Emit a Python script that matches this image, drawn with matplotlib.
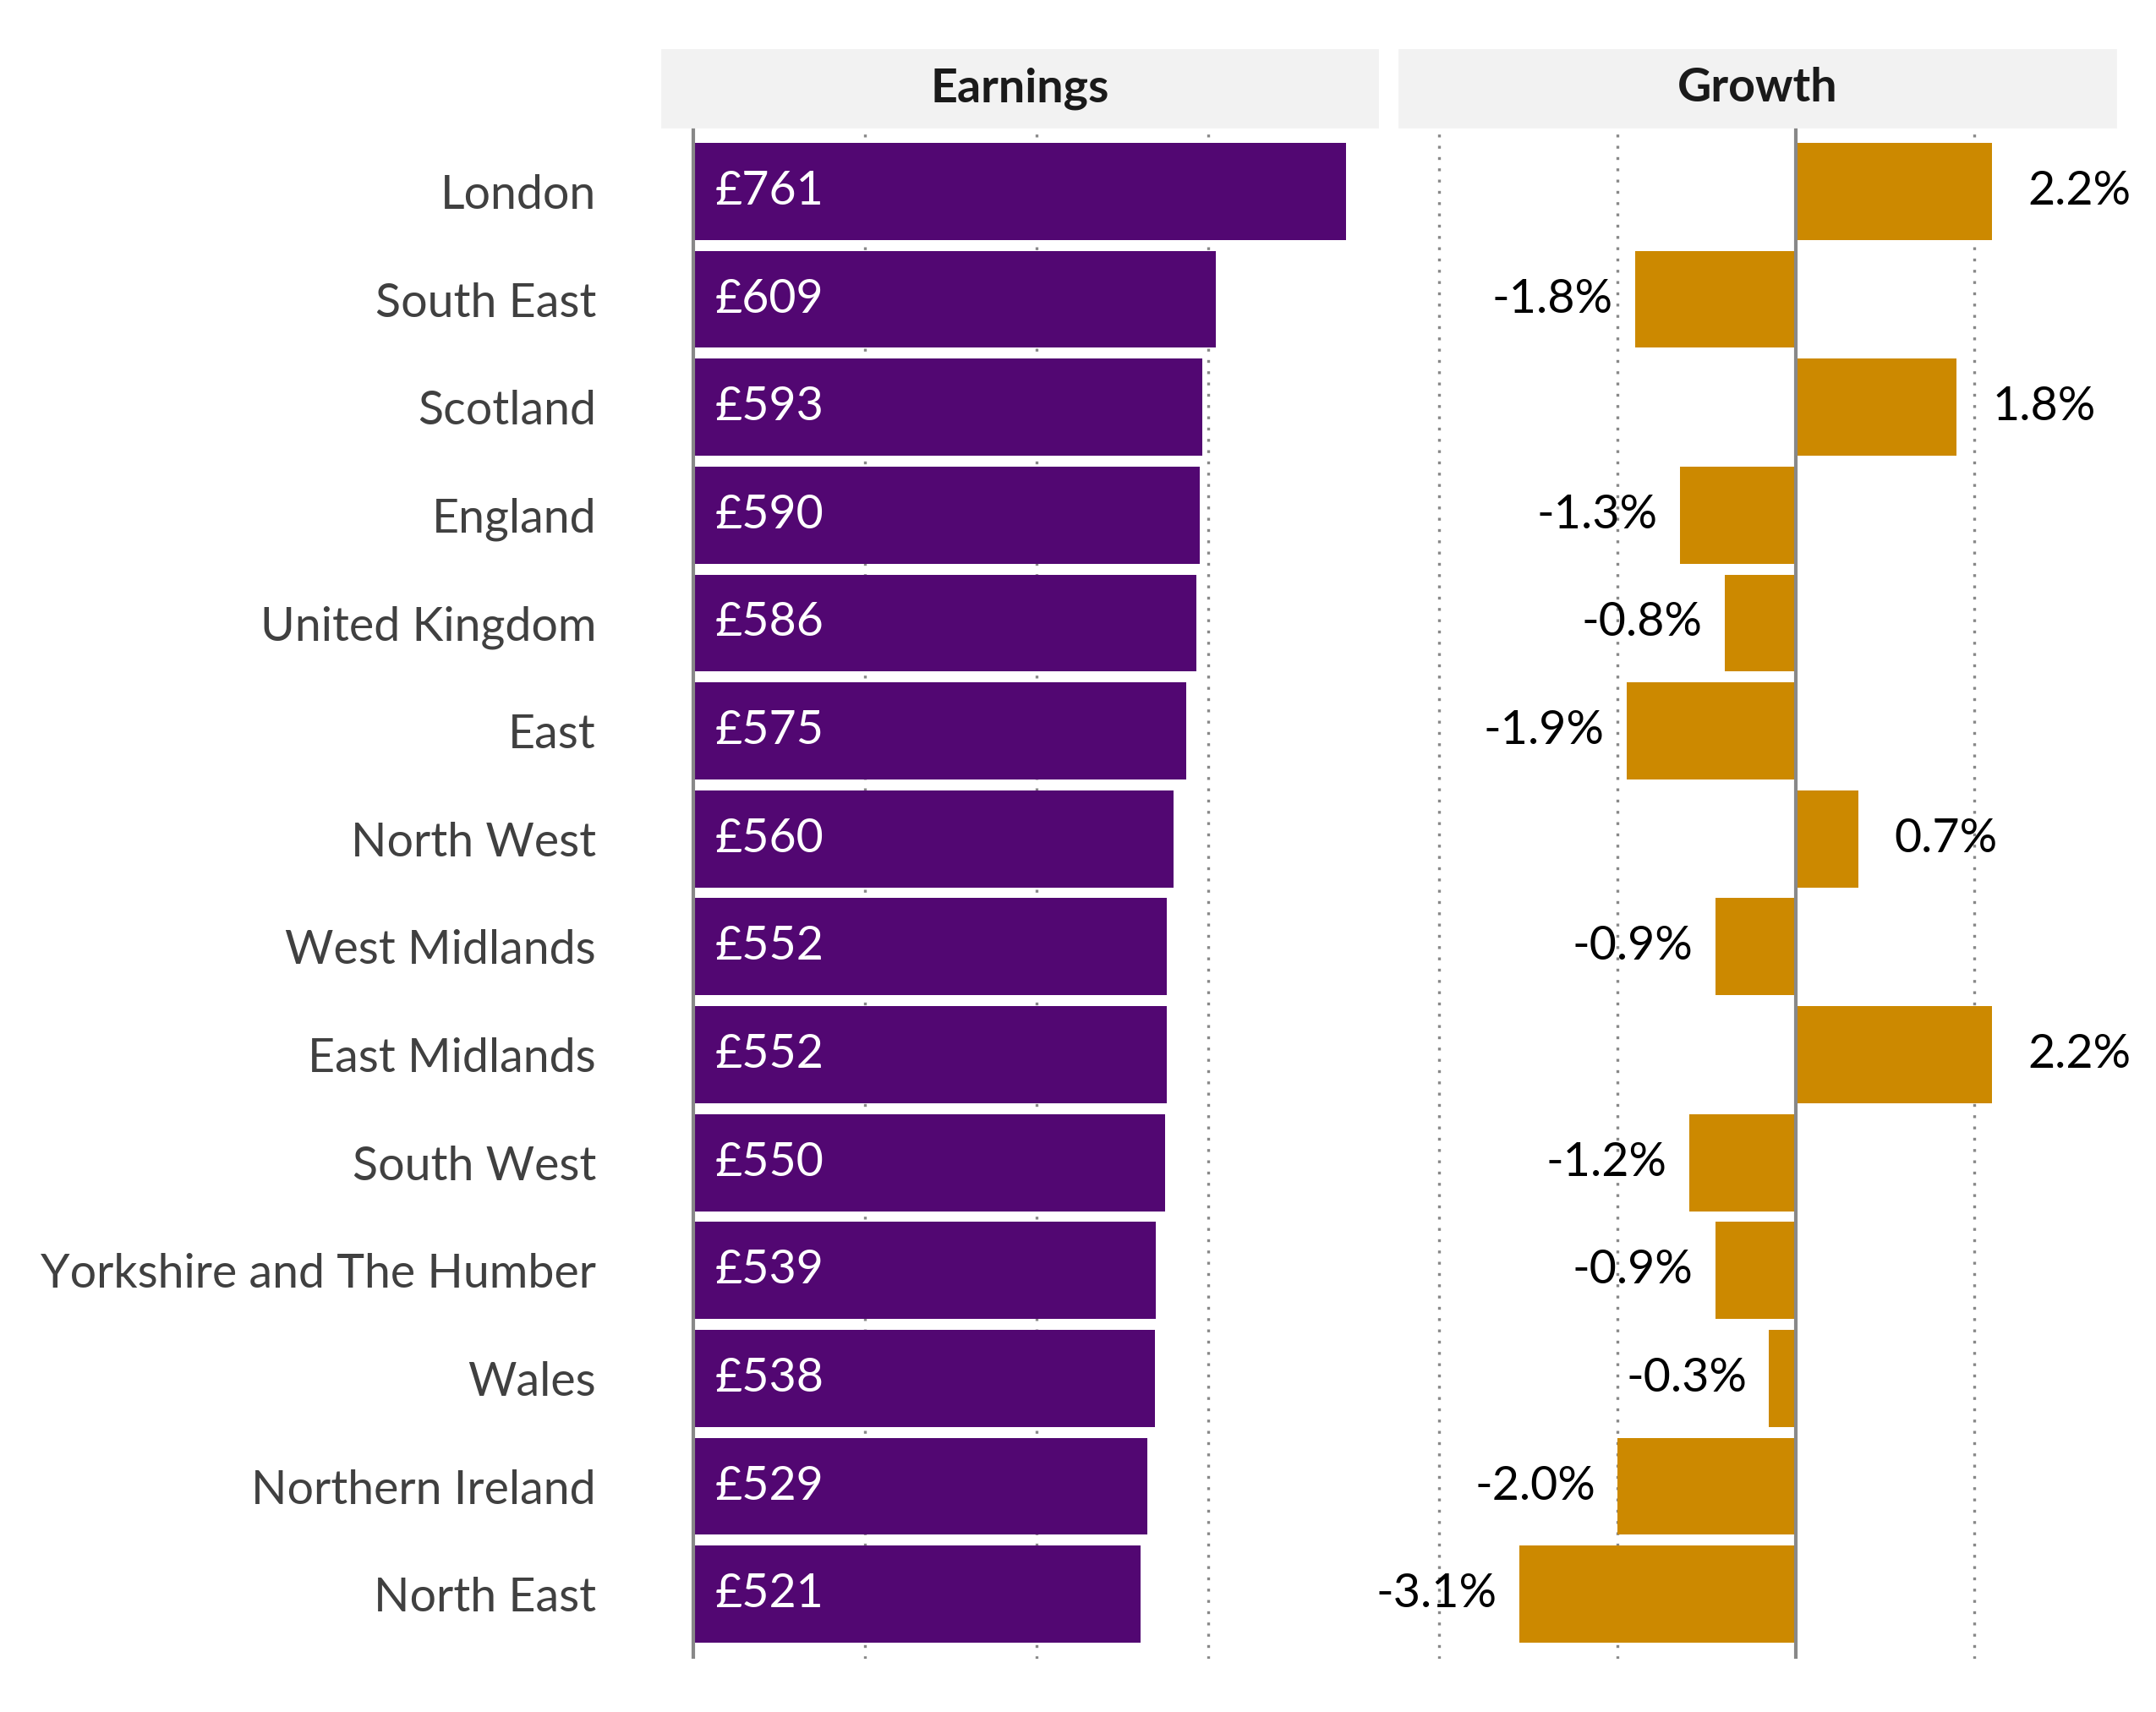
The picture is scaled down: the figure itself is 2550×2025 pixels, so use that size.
import matplotlib.pyplot as plt

regions = ["London", "South East", "Scotland", "England", "United Kingdom", "East",
           "North West", "West Midlands", "East Midlands", "South West",
           "Yorkshire and The Humber", "Wales", "Northern Ireland", "North East"]
earnings = [761, 609, 593, 590, 586, 575, 560, 552, 552, 550, 539, 538, 529, 521]
growth = [2.2, -1.8, 1.8, -1.3, -0.8, -1.9, 0.7, -0.9, 2.2, -1.2, -0.9, -0.3, -2.0, -3.1]

purple = "#520772"
gold = "#CC8900"
plt.rcParams["font.family"] = "Lato"

fig = plt.figure(figsize=(12.75, 10.125), dpi=200)
ax1 = fig.add_axes([0.307, 0.031, 0.332, 0.895])
ax2 = fig.add_axes([0.649, 0.031, 0.332, 0.895])

y = list(range(len(regions)))

ax1.barh(y, earnings, height=0.9, color=purple)
for i, v in enumerate(earnings):
    ax1.text(25, i, f"£{v}", color="white", va="center", ha="left", fontsize=20)
ax1.set_xlim(-37, 798)
for g in [200, 400, 600]:
    ax1.axvline(g, color="#888888", ls=(0, (1, 3)), lw=1.2, zorder=0)
ax1.axvline(0, color="#888888", lw=1.5)

ax2.barh(y, growth, height=0.9, color=gold)
for i, v in enumerate(growth):
    if v >= 0:
        ax2.text(v + 0.4, i, f"{v:.1f}%", va="center", ha="left", fontsize=20)
    else:
        ax2.text(v - 0.25, i, f"{v:.1f}%", va="center", ha="right", fontsize=20)
ax2.set_xlim(-4.45, 3.58)
for g in [-4, -2, 2]:
    ax2.axvline(g, color="#888888", ls=(0, (1, 3)), lw=1.2, zorder=0)
ax2.axvline(0, color="#888888", lw=1.5)

for ax, title in [(ax1, "Earnings"), (ax2, "Growth")]:
    ax.set_ylim(13.6, -0.6)
    ax.set_xticks([])
    for s in ax.spines.values():
        s.set_visible(False)
    pos = ax.get_position()
    fig.patches.append(plt.Rectangle((pos.x0, 0.926), pos.width, 0.045,
                                     transform=fig.transFigure, color="#F2F2F2"))
    fig.text(pos.x0 + pos.width / 2, 0.9485, title, ha="center", va="center",
             fontsize=20, fontweight="bold", color="#1a1a1a")

ax1.set_yticks(y)
ax1.set_yticklabels(regions, fontsize=20, color="#404040")
ax1.tick_params(axis="y", length=0, pad=28)
ax2.set_yticks([])

fig.savefig("out.png")
